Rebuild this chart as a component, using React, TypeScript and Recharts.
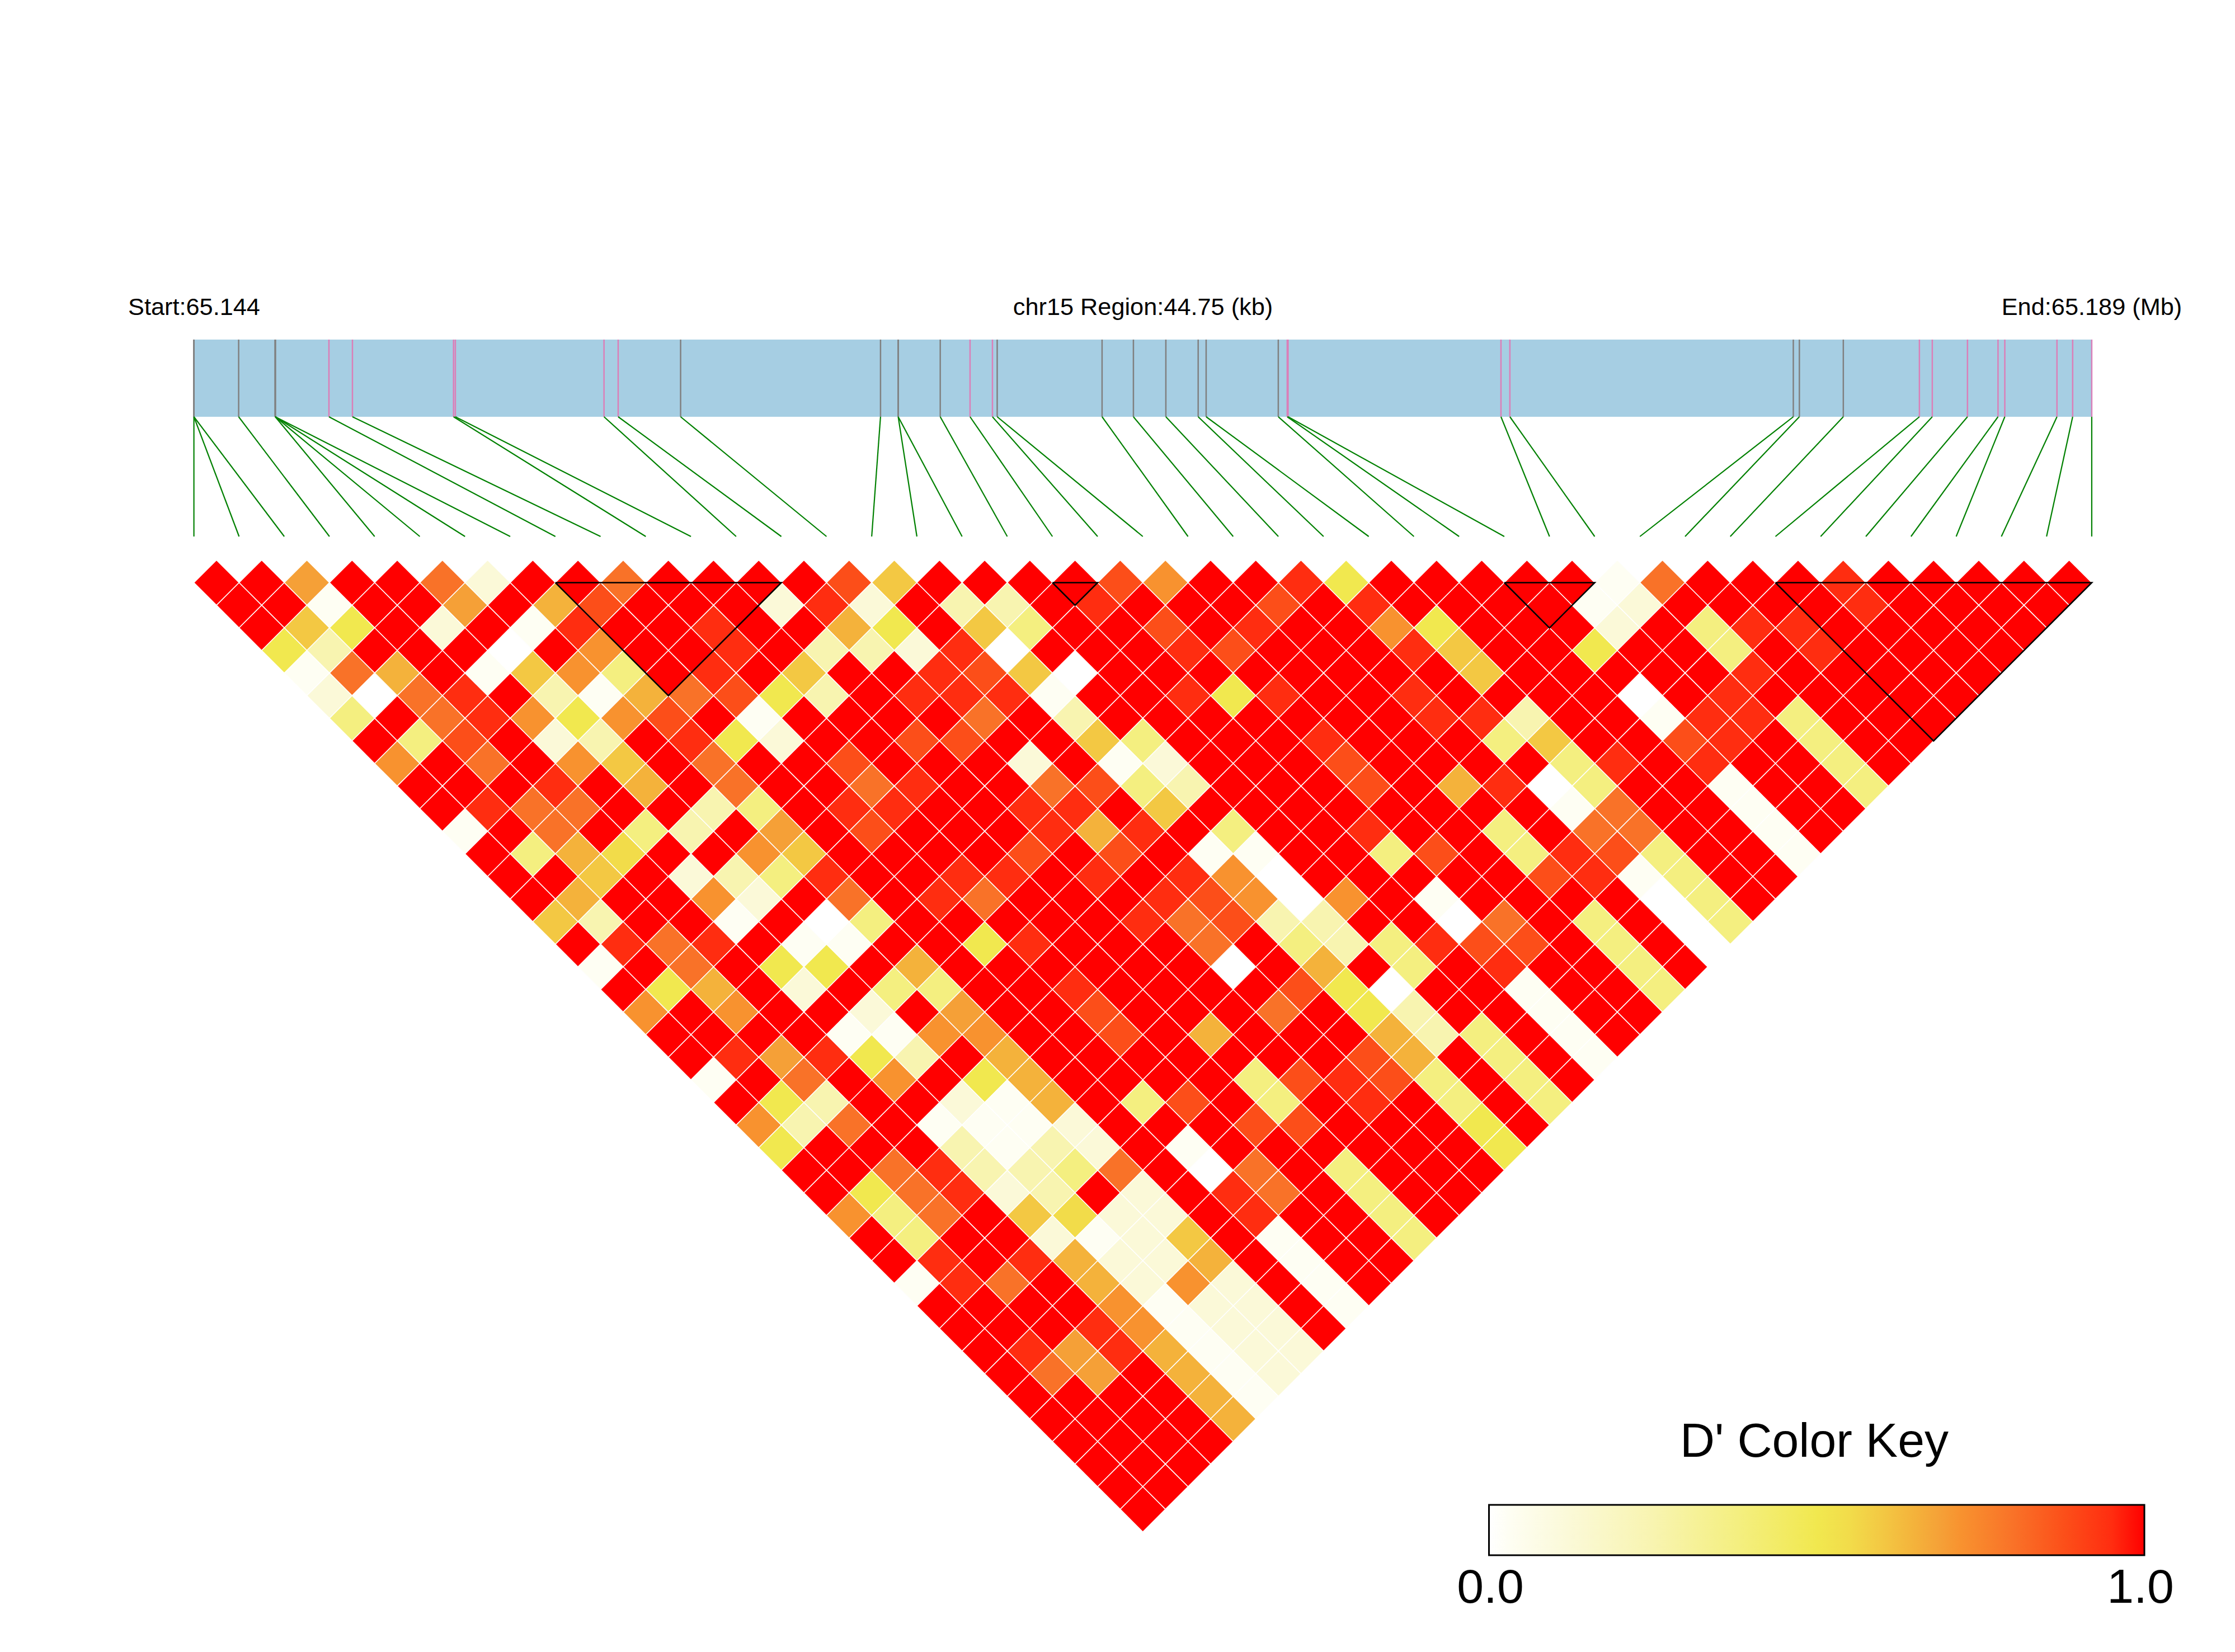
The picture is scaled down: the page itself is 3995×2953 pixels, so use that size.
// App.tsx - D' LD heatmap for the chr15 region
import React from 'react';
import { ComposedChart, Scatter, XAxis, YAxis, ReferenceArea, ReferenceLine } from 'recharts';

const WIDTH = 3995;
const HEIGHT = 2953;

const R = 1, r = 0.95, o = 0.88, O = 0.8, a = 0.72, b = 0.69, A = 0.65, y = 0.6, u = 0.55, Y = 0.5, l = 0.38, p = 0.25, c = 0.12, w = 0.03, W = 0;

// one array per distance between SNPs, left to right
const d1 = [R,R,b,R,R,O,c,R,R,O,R,R,R,R,o,y,R,R,R,R,o,a,R,R,r,Y,R,R,R,R,R,w,O,R,R,R,r,R,R,R,R,R];
const d2 = [R,R,w,R,R,b,R,A,o,R,R,R,c,r,c,R,p,p,R,r,R,R,R,o,R,r,R,R,R,R,w,c,R,R,R,R,r,R,R,R,R];
const d3 = [R,y,Y,R,c,R,w,r,R,R,r,R,R,A,Y,R,y,l,R,R,o,R,r,R,R,a,Y,R,R,R,c,R,l,r,r,R,R,R,R,R];
const d4 = [Y,p,R,R,R,W,R,a,R,R,r,R,p,p,c,r,W,R,R,R,r,o,R,R,R,r,y,R,R,Y,R,R,l,R,r,R,R,R,R];
const d5 = [w,O,A,R,w,y,a,l,R,r,R,y,R,R,r,o,y,W,R,R,R,R,R,R,R,R,y,R,R,R,R,R,r,R,R,R,R,R];
const d6 = [c,W,O,r,R,p,w,A,O,o,Y,p,R,r,r,r,w,R,R,r,Y,r,R,R,r,R,R,R,R,W,R,r,R,R,R,R,R];
const d7 = [l,R,O,r,a,Y,a,o,R,w,R,R,R,R,O,R,p,R,R,R,R,R,R,R,r,r,p,R,R,w,r,r,l,R,R,R];
const d8 = [R,l,o,R,c,p,R,r,Y,c,R,R,o,o,R,R,y,l,R,R,R,r,R,R,R,l,y,R,R,o,r,R,l,R,R];
const d9 = [a,R,O,R,a,y,R,O,R,R,o,R,R,R,c,R,w,c,R,R,R,o,R,R,R,R,l,r,R,r,R,R,l,R];
const d10 = [R,R,R,r,R,A,R,O,R,R,O,r,R,R,O,o,l,p,R,R,R,o,R,A,r,W,l,R,R,w,R,R,l];
const d11 = [R,r,O,O,R,R,p,l,R,r,r,R,R,r,r,R,y,R,R,R,R,R,R,R,R,w,O,R,R,w,R,R];
const d12 = [w,R,O,R,l,p,R,b,R,o,R,R,R,r,A,r,R,l,R,R,r,R,R,l,R,O,O,R,R,w,R];
const d13 = [R,l,A,u,R,R,a,y,R,R,R,R,o,R,o,R,w,w,R,R,l,o,R,l,r,o,l,R,R,w];
const d14 = [R,R,y,R,c,p,l,r,R,R,r,r,R,r,R,r,a,W,R,R,R,R,R,o,r,w,l,R,R];
const d15 = [R,A,R,R,a,c,R,O,R,r,O,R,R,R,r,o,a,W,a,R,w,R,R,R,R,W,l,R];
const d16 = [y,p,R,R,w,R,W,l,R,R,R,R,R,r,O,o,p,p,R,R,W,O,R,l,R,W,l];
const d17 = [R,r,O,r,R,w,w,R,R,Y,r,R,R,R,O,R,l,p,l,r,o,o,R,l,R,W];
const d18 = [w,R,O,R,Y,Y,R,A,R,R,R,R,R,R,W,R,A,R,l,R,r,R,R,l,R];
const d19 = [R,Y,A,R,c,R,l,l,R,R,r,R,R,R,R,o,Y,W,R,R,w,R,R,l];
const d20 = [a,R,a,R,R,c,R,b,R,R,o,R,R,R,O,R,Y,p,R,R,w,R,R];
const d21 = [R,R,R,R,w,w,a,a,R,R,o,R,A,R,R,R,A,p,l,R,w,R];
const d22 = [R,r,b,r,Y,p,R,A,R,R,R,R,R,R,R,o,A,R,l,R,w];
const d23 = [w,R,O,R,a,R,Y,A,R,R,R,R,l,o,r,o,l,R,l,R];
const d24 = [R,Y,p,R,R,c,w,A,R,l,o,R,l,R,r,R,l,R,l];
const d25 = [a,p,O,R,w,w,w,c,R,R,R,o,o,R,R,R,Y,R];
const d26 = [Y,R,R,R,p,w,p,c,R,w,R,R,R,R,R,R,Y];
const d27 = [R,R,O,r,p,p,l,O,R,W,O,R,l,R,R,R];
const d28 = [R,Y,O,r,c,p,R,c,R,r,O,R,l,R,R];
const d29 = [a,l,O,R,y,u,c,c,R,r,R,R,l,R];
const d30 = [R,l,R,R,c,w,c,y,R,w,R,R,l];
const d31 = [R,r,R,r,A,c,c,A,R,w,R,R];
const d32 = [w,r,O,R,A,c,a,c,R,w,R];
const d33 = [R,R,R,R,a,w,c,c,R,w];
const d34 = [R,R,R,r,a,w,c,c,R];
const d35 = [R,r,b,r,A,w,c,c];
const d36 = [R,O,b,R,A,w,c];
const d37 = [R,R,R,R,A,w];
const d38 = [R,R,R,R,A];
const d39 = [R,R,R,R];
const d40 = [R,R,R];
const d41 = [R,R];
const d42 = [R];

const allDiagonals = [d1,d2,d3,d4,d5,d6,d7,d8,d9,d10,d11,d12,d13,d14,d15,d16,d17,d18,d19,d20,d21,d22,d23,d24,d25,d26,d27,d28,d29,d30,d31,d32,d33,d34,d35,d36,d37,d38,d39,d40,d41,d42];

// SNP positions inside the region, kb from the start
const REGION_KB = 44.75;
const snpKb = [0,0,0,1.055,1.918,1.918,1.918,1.918,3.184,3.738,6.122,6.165,9.67,10.004,11.476,16.19,16.607,16.607,17.598,18.301,18.829,18.941,21.414,22.153,22.918,23.68,23.868,25.569,25.78,25.8,30.82,31.03,37.713,37.856,38.892,40.686,40.99,41.82,42.54,42.7,43.93,44.3,44.75];
const snpKind = ['g','g','g','g','g','g','g','g','p','p','p','p','p','p','g','g','g','g','g','p','p','g','g','g','g','g','g','g','p','p','p','p','g','g','g','p','p','p','p','p','p','p','p'];

// LD blocks: first SNP, last SNP
const blocks = [[8, 13], [19, 20], [29, 31], [35, 42]];

const levelStops = [0, 0.03, 0.12, 0.25, 0.38, 0.5, 0.55, 0.6, 0.65, 0.69, 0.72, 0.8, 0.88, 0.95, 1];
const levelColors = ['#FFFFFF','#FEFEF3','#FBF9D8','#F8F4B0','#F4EF80','#F1E84F','#F2DC4A','#F3C843','#F4B23B','#F5A037','#F8922F','#F97228','#FC4E19','#FF2D10','#FF0000'];

const colorOf = (v: number) => levelColors[levelStops.indexOf(v)] ?? '#FFFFFF';

const cells = allDiagonals.flatMap((row, i) =>
  row.map((value, k) => ({ x: (i + 1) / 2 + k, y: i + 1, value }))
);

const blockOutlines = blocks.map(([from, to]) => [
  { x: from, y: 1 },
  { x: to, y: 1 },
  { x: (from + to) / 2, y: 1 + (to - from) },
  { x: from, y: 1 },
]);

// axis setup: one SNP every 80.77px, one diagonal every 40.4px
const STEP_X = 80.77;
const STEP_Y = 40.4;
const LEFT = 346.6;
const ROW1 = 1041.5;
const snpXDomain = [-LEFT / STEP_X, (WIDTH - LEFT) / STEP_X];
const snpYDomain = [1 - ROW1 / STEP_Y, 1 + (HEIGHT - ROW1) / STEP_Y];

const pageX = (px: number) => (px - LEFT) / STEP_X;
const pageY = (px: number) => 1 + (px - ROW1) / STEP_Y;

const TRACK_TOP = pageY(607);
const TRACK_BOTTOM = pageY(745);
const FAN_BOTTOM = pageY(959);

const kbToSnp = (kb: number) => (kb / REGION_KB) * 42;

const textStyle = { fontFamily: '"Liberation Sans", Arial, sans-serif', fill: '#000' };

const DiamondCell = (props: any) => {
  const { cx, cy, payload } = props;
  const hw = STEP_X / 2;
  const hh = STEP_Y;
  return (
    <polygon
      points={`${cx},${cy - hh} ${cx + hw},${cy} ${cx},${cy + hh} ${cx - hw},${cy}`}
      fill={colorOf(payload.value)}
      stroke="#FFFFFF"
      strokeWidth={1.5}
    />
  );
};

const NoDot = () => null;

export default function App() {
  return (
    <div style={{ position: 'absolute', left: 0, top: 0, width: WIDTH, height: HEIGHT, background: '#fff' }}>
      <ComposedChart width={WIDTH} height={HEIGHT} margin={{ top: 0, right: 0, bottom: 0, left: 0 }}>
        <defs>
          <linearGradient id="keyRamp" x1="0" y1="0" x2="1" y2="0">
            {levelStops.map((s, i) => (
              <stop key={s} offset={s} stopColor={levelColors[i]} />
            ))}
          </linearGradient>
        </defs>

        <XAxis xAxisId="snp" type="number" dataKey="x" domain={snpXDomain} allowDataOverflow hide />
        <YAxis yAxisId="snp" type="number" dataKey="y" domain={snpYDomain} allowDataOverflow reversed hide />

        <ReferenceArea xAxisId="snp" yAxisId="snp" x1={0} x2={42} y1={TRACK_TOP} y2={TRACK_BOTTOM} fill="#A6CEE3" fillOpacity={1} stroke="none" />

        {snpKb.map((kb, i) => (
          <ReferenceLine
            key={`tick-${i}`}
            xAxisId="snp"
            yAxisId="snp"
            segment={[{ x: kbToSnp(kb), y: TRACK_TOP }, { x: kbToSnp(kb), y: TRACK_BOTTOM }]}
            stroke={snpKind[i] === 'g' ? '#808080' : '#DB7FB8'}
            strokeWidth={2.5}
          />
        ))}

        {snpKb.map((kb, i) => (
          <ReferenceLine
            key={`fan-${i}`}
            xAxisId="snp"
            yAxisId="snp"
            segment={[{ x: kbToSnp(kb), y: TRACK_BOTTOM }, { x: i, y: FAN_BOTTOM }]}
            stroke="#008000"
            strokeWidth={2.2}
          />
        ))}

        <Scatter xAxisId="snp" yAxisId="snp" data={cells} dataKey="y" shape={DiamondCell} isAnimationActive={false} />

        {blockOutlines.map((outline, i) => (
          <Scatter
            key={`block-${i}`}
            xAxisId="snp"
            yAxisId="snp"
            data={outline}
            dataKey="y"
            line={{ stroke: '#000', strokeWidth: 2.6 }}
            lineType="joint"
            shape={NoDot}
            isAnimationActive={false}
          />
        ))}

        <ReferenceArea
          xAxisId="snp"
          yAxisId="snp"
          x1={pageX(2661.5)}
          x2={pageX(3833)}
          y1={pageY(2690)}
          y2={pageY(2780)}
          fill="url(#keyRamp)"
          fillOpacity={1}
          stroke="#000"
          strokeWidth={3}
        />

        <text x={347} y={563} textAnchor="middle" fontSize={43.3} style={textStyle}>Start:65.144</text>
        <text x={2043} y={563} textAnchor="middle" fontSize={43.3} style={textStyle}>chr15 Region:44.75 (kb)</text>
        <text x={3739} y={563} textAnchor="middle" fontSize={43.3} style={textStyle}>End:65.189 (Mb)</text>
        <text x={3243} y={2604} textAnchor="middle" fontSize={86} style={textStyle}>D' Color Key</text>
        <text x={2664} y={2865} textAnchor="middle" fontSize={86} style={textStyle}>0.0</text>
        <text x={3826} y={2865} textAnchor="middle" fontSize={86} style={textStyle}>1.0</text>
      </ComposedChart>
    </div>
  );
}
